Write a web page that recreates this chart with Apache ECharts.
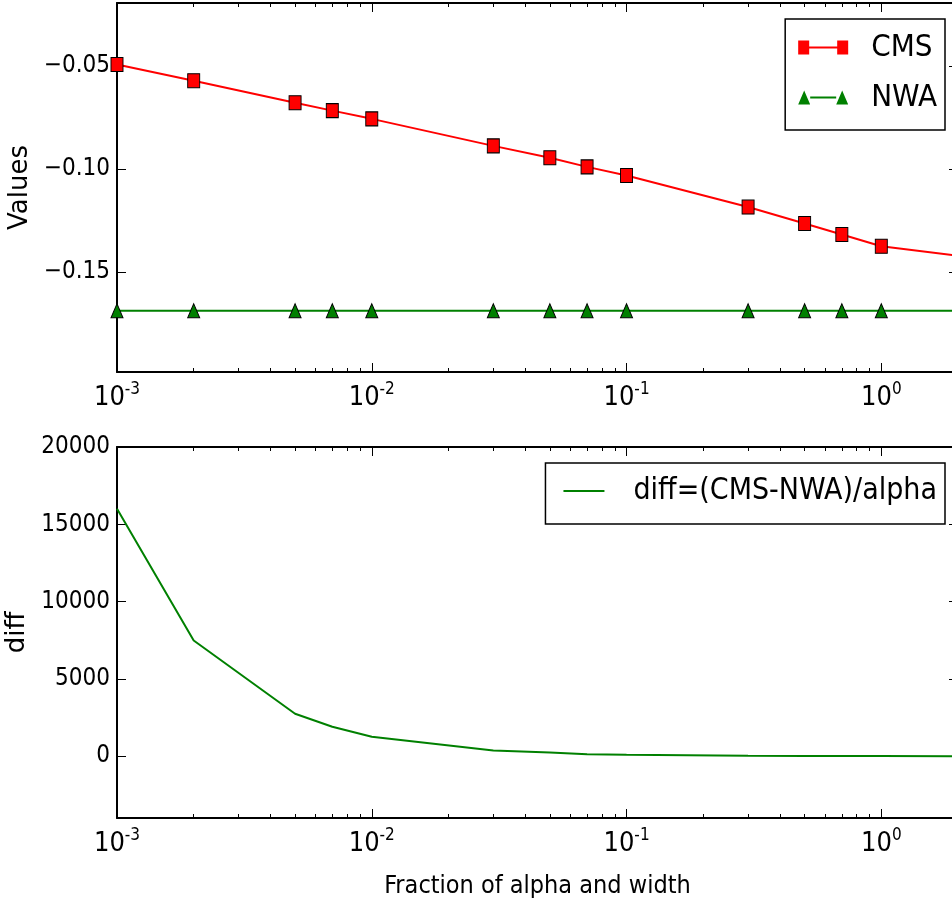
<!DOCTYPE html>
<html>
<head>
<meta charset="utf-8">
<script src="https://cdn.jsdelivr.net/npm/echarts@6/dist/echarts.min.js"></script>
<style>
html,body{margin:0;padding:0;background:#fff;}
#chart{width:952px;height:905px;}
</style>
</head>
<body>
<div id="chart"></div>
<script>
// ---- data ----
const xValues = [0.001, 0.002, 0.005, 0.007, 0.01, 0.03, 0.05, 0.07, 0.1, 0.3, 0.5, 0.7, 1.0, 2.0];
const cmsValues = [-0.0493, -0.0572, -0.0679, -0.0717, -0.0757, -0.0888, -0.0946, -0.0990, -0.1032, -0.1185, -0.1265, -0.1318, -0.1375, -0.1421];
const nwaValues = [-0.1688, -0.1688, -0.1688, -0.1688, -0.1688, -0.1688, -0.1688, -0.1688, -0.1688, -0.1688, -0.1688, -0.1688, -0.1688, -0.1688];
const diffValues = [16000, 7480, 2740, 1900, 1255, 370, 230, 130, 87, 22, 11, 7, 4, 2];
const xMajorTicks = [0.001, 0.01, 0.1, 1];
const xMinorTicks = [0.002,0.003,0.004,0.005,0.006,0.007,0.008,0.009,
                     0.02,0.03,0.04,0.05,0.06,0.07,0.08,0.09,
                     0.2,0.3,0.4,0.5,0.6,0.7,0.8,0.9,2];
const topYTicks = [-0.15, -0.10, -0.05];
const bottomYTicks = [0, 5000, 10000, 15000, 20000];
const seriesNames = ['CMS', 'NWA', 'diff=(CMS-NWA)/alpha'];

const COND = "'DejaVu Sans Condensed', 'DejaVu Sans', sans-serif";
const NORM = "'DejaVu Sans', sans-serif";

function pairs(ys, hideLast) {
  return xValues.map((x, i) => {
    if (hideLast && i === xValues.length - 1) return { value: [x, ys[i]], symbol: 'none' };
    return [x, ys[i]];
  });
}

const X_MIN = 0.001, X_MAX = 2;

function xAxes(gridIndex, withName) {
  const base = {
    type: 'log', logBase: 10, min: X_MIN, max: X_MAX, gridIndex: gridIndex,
    splitLine: { show: false }
  };
  const line = { show: true, onZero: false, lineStyle: { color: '#000', width: 2 } };
  const noLine = { show: false, onZero: false };
  return [
    Object.assign({}, base, {
      position: 'bottom',
      axisLine: line,
      axisTick: { show: true, inside: true, length: 9, customValues: xMajorTicks, lineStyle: { color: '#000', width: 1 } },
      axisLabel: {
        show: true, margin: 9, customValues: xMajorTicks,
        formatter: v => '{b|10}{s|' + Math.round(Math.log10(v)) + '}',
        rich: {
          b: { fontFamily: COND, fontSize: 27, lineHeight: 34, color: '#000' },
          s: { fontFamily: COND, fontSize: 17, lineHeight: 14, verticalAlign: 'top', color: '#000' }
        }
      },
      name: withName ? 'Fraction of alpha and width' : '',
      nameLocation: 'middle', nameGap: 56,
      nameTextStyle: { fontFamily: COND, fontSize: 25, color: '#000' }
    }),
    Object.assign({}, base, {
      position: 'bottom',
      axisLine: noLine,
      axisTick: { show: true, inside: true, length: 4, customValues: xMinorTicks, lineStyle: { color: '#000', width: 1 } },
      axisLabel: { show: false }
    }),
    Object.assign({}, base, {
      position: 'top',
      axisLine: line,
      axisTick: { show: true, inside: true, length: 9, customValues: xMajorTicks, lineStyle: { color: '#000', width: 1 } },
      axisLabel: { show: false }
    }),
    Object.assign({}, base, {
      position: 'top',
      axisLine: noLine,
      axisTick: { show: true, inside: true, length: 4, customValues: xMinorTicks, lineStyle: { color: '#000', width: 1 } },
      axisLabel: { show: false }
    })
  ];
}

function yAxes(gridIndex, min, max, ticks, fmt, name, nameGap) {
  const base = { type: 'value', gridIndex: gridIndex, min: min, max: max, splitLine: { show: false } };
  const line = { show: true, onZero: false, lineStyle: { color: '#000', width: 2 } };
  return [
    Object.assign({}, base, {
      position: 'left',
      axisLine: line,
      axisTick: { show: true, inside: true, length: 9, customValues: ticks, lineStyle: { color: '#000', width: 1 } },
      axisLabel: { show: true, margin: 7, customValues: ticks, formatter: fmt, fontFamily: COND, fontSize: 24, color: '#000' },
      name: name, nameLocation: 'middle', nameRotate: 90, nameGap: nameGap,
      nameTextStyle: { fontFamily: NORM, fontSize: 26, color: '#000' }
    }),
    Object.assign({}, base, {
      position: 'right',
      axisLine: line,
      axisTick: { show: true, inside: true, length: 9, customValues: ticks, lineStyle: { color: '#000', width: 1 } },
      axisLabel: { show: false }
    })
  ];
}

const chart = echarts.init(document.getElementById('chart'));
const option = {
  animation: false,
  backgroundColor: '#fff',
  grid: [
    { left: 117, right: -6, top: 3, height: 369, containLabel: false, outerBoundsMode: 'none' },
    { left: 117, right: -6, top: 447, height: 371, containLabel: false, outerBoundsMode: 'none' }
  ],
  xAxis: xAxes(0, false).concat(xAxes(1, true)),
  yAxis: yAxes(0, -0.1985, -0.0195, topYTicks, v => v.toFixed(2).replace('-', '\u2212'), 'Values', 82)
    .concat(yAxes(1, -4000, 20000, bottomYTicks, v => String(v), 'diff', 86)),
  legend: [
    {
      data: [
        { name: seriesNames[0], icon: 'path://M0,0H11V14H0Z M11,6H39V8H11Z M39,0H50V14H39Z' },
        { name: seriesNames[1], icon: 'path://M0,14L6,0L12,14Z M12,6H38V8H12Z M38,14L44,0L50,14Z' }
      ],
      orient: 'vertical', right: 7, top: 19,
      padding: [13, 8, 17, 13], itemGap: 19,
      itemWidth: 50, itemHeight: 14,
      backgroundColor: '#fff', borderColor: '#000', borderWidth: 1.5, borderRadius: 0,
      itemStyle: { borderWidth: 0 },
      textStyle: { fontFamily: COND, fontSize: 31, lineHeight: 30, color: '#000', padding: [0, 0, 0, 18] },
      selectedMode: false
    },
    {
      data: [{ name: seriesNames[2], icon: 'path://M0,0H41V2H0Z' }],
      orient: 'vertical', right: 7, top: 463,
      padding: [13, 8, 18, 18],
      itemWidth: 41, itemHeight: 2,
      backgroundColor: '#fff', borderColor: '#000', borderWidth: 1.5, borderRadius: 0,
      textStyle: { fontFamily: COND, fontSize: 30, lineHeight: 30, color: '#000', padding: [0, 0, 0, 24] },
      selectedMode: false
    }
  ],
  series: [
    {
      name: seriesNames[0], type: 'line', xAxisIndex: 0, yAxisIndex: 0,
      data: pairs(cmsValues, true),
      symbol: 'rect', symbolSize: [12, 14],
      lineStyle: { color: '#ff0000', width: 2 },
      itemStyle: { color: '#ff0000', borderColor: '#000', borderWidth: 1 },
      z: 3
    },
    {
      name: seriesNames[1], type: 'line', xAxisIndex: 0, yAxisIndex: 0,
      data: pairs(nwaValues, true),
      symbol: 'triangle', symbolSize: [12, 14],
      lineStyle: { color: '#008000', width: 2 },
      itemStyle: { color: '#008000', borderColor: '#000', borderWidth: 1 },
      z: 3
    },
    {
      name: seriesNames[2], type: 'line', xAxisIndex: 4, yAxisIndex: 2,
      data: pairs(diffValues, false),
      symbol: 'none', showSymbol: false,
      lineStyle: { color: '#008000', width: 2 },
      itemStyle: { color: '#008000' },
      z: 3
    }
  ]
};
chart.setOption(option);
</script>
</body>
</html>
